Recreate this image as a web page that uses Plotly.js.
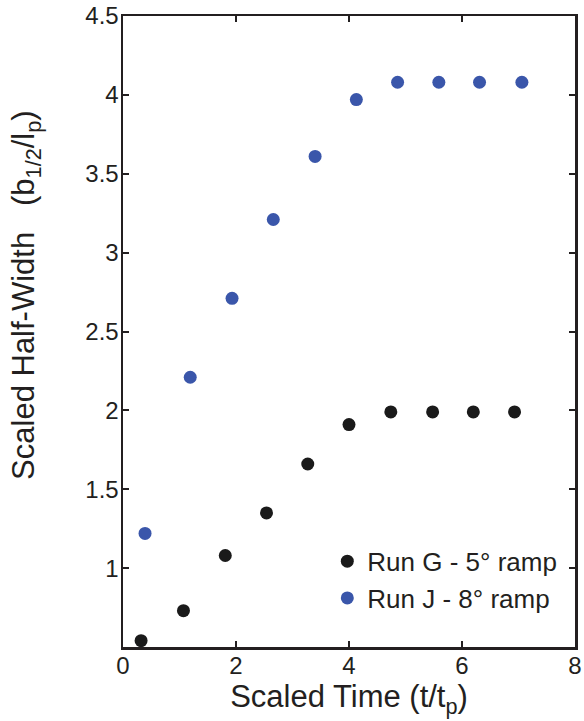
<!DOCTYPE html>
<html><head><meta charset="utf-8">
<script src="https://cdn.plot.ly/plotly-3.0.1.min.js"></script>
<style>body{margin:0;padding:0;background:#fff}#chart{width:584px;height:721px}</style>
</head><body><div id="chart"></div>
<script>
const runG_x = [0.32, 1.07, 1.81, 2.54, 3.27, 4.00, 4.74, 5.48, 6.20, 6.93];
const runG_y = [0.54, 0.73, 1.08, 1.35, 1.66, 1.91, 1.99, 1.99, 1.99, 1.99];
const runJ_x = [0.39, 1.19, 1.93, 2.66, 3.40, 4.13, 4.86, 5.59, 6.31, 7.06];
const runJ_y = [1.22, 2.21, 2.71, 3.21, 3.61, 3.97, 4.08, 4.08, 4.08, 4.08];
const xTicks = [0, 2, 4, 6, 8];
const yTicks = [1, 1.5, 2, 2.5, 3, 3.5, 4, 4.5];
const yTickText = ['1', '1.5', '2', '2.5', '3', '3.5', '4', '4.5'];
const xTitle = 'Scaled Time (t/t<sub>p</sub>)';
const yTitle = 'Scaled Half-Width\u00a0\u00a0\u00a0(b<sub>1/2</sub>/l<sub>p</sub>)';

const traces = [
  {x: runG_x, y: runG_y, mode: 'markers', type: 'scatter', name: 'Run G - 5° ramp',
   legendgroup: 'g', marker: {color: '#1a1a1a', size: 13}, cliponaxis: false},
  {x: runJ_x, y: runJ_y, mode: 'markers', type: 'scatter', name: 'Run J - 8° ramp',
   legendgroup: 'j', marker: {color: '#3a56aa', size: 13}, cliponaxis: false}
];
const fontFam = 'Liberation Sans, Arial, sans-serif';
const ink = '#231f20';
const axisCommon = {
  showgrid: false, zeroline: false, showline: true, linecolor: ink, linewidth: 2.5,
  mirror: 'ticks', ticks: 'inside', ticklen: 6, tickwidth: 2, tickcolor: ink,
  tickfont: {family: fontFam, size: 24, color: ink}
};
const layout = {
  width: 584, height: 721,
  margin: {l: 123, r: 9, t: 16, b: 74},
  paper_bgcolor: '#fff', plot_bgcolor: '#fff',
  font: {family: fontFam, color: ink},
  showlegend: true,
  legend: {x: 0.452, y: 0.04, xanchor: 'left', yanchor: 'bottom', bgcolor: 'rgba(0,0,0,0)',
    font: {family: fontFam, size: 26, color: ink}, itemwidth: 30, tracegroupgap: 5,
    traceorder: 'normal'},
  xaxis: Object.assign({}, axisCommon, {range: [0, 8], tickvals: xTicks, ticktext: xTicks.map(String),
    ticklabelstandoff: -4,
    title: {text: xTitle, font: {family: fontFam, size: 31, color: ink}, standoff: 6}}),
  yaxis: Object.assign({}, axisCommon, {range: [0.5, 4.5], tickvals: yTicks, ticktext: yTickText,
    ticklabelstandoff: -3}),
  annotations: [{
    text: yTitle, xref: 'paper', yref: 'paper', x: -0.2146, y: 0.558,
    xanchor: 'center', yanchor: 'middle', textangle: -90, showarrow: false,
    font: {family: fontFam, size: 31, color: ink}
  }]
};
Plotly.newPlot('chart', traces, layout, {displayModeBar: false, staticPlot: true});
</script></body></html>
